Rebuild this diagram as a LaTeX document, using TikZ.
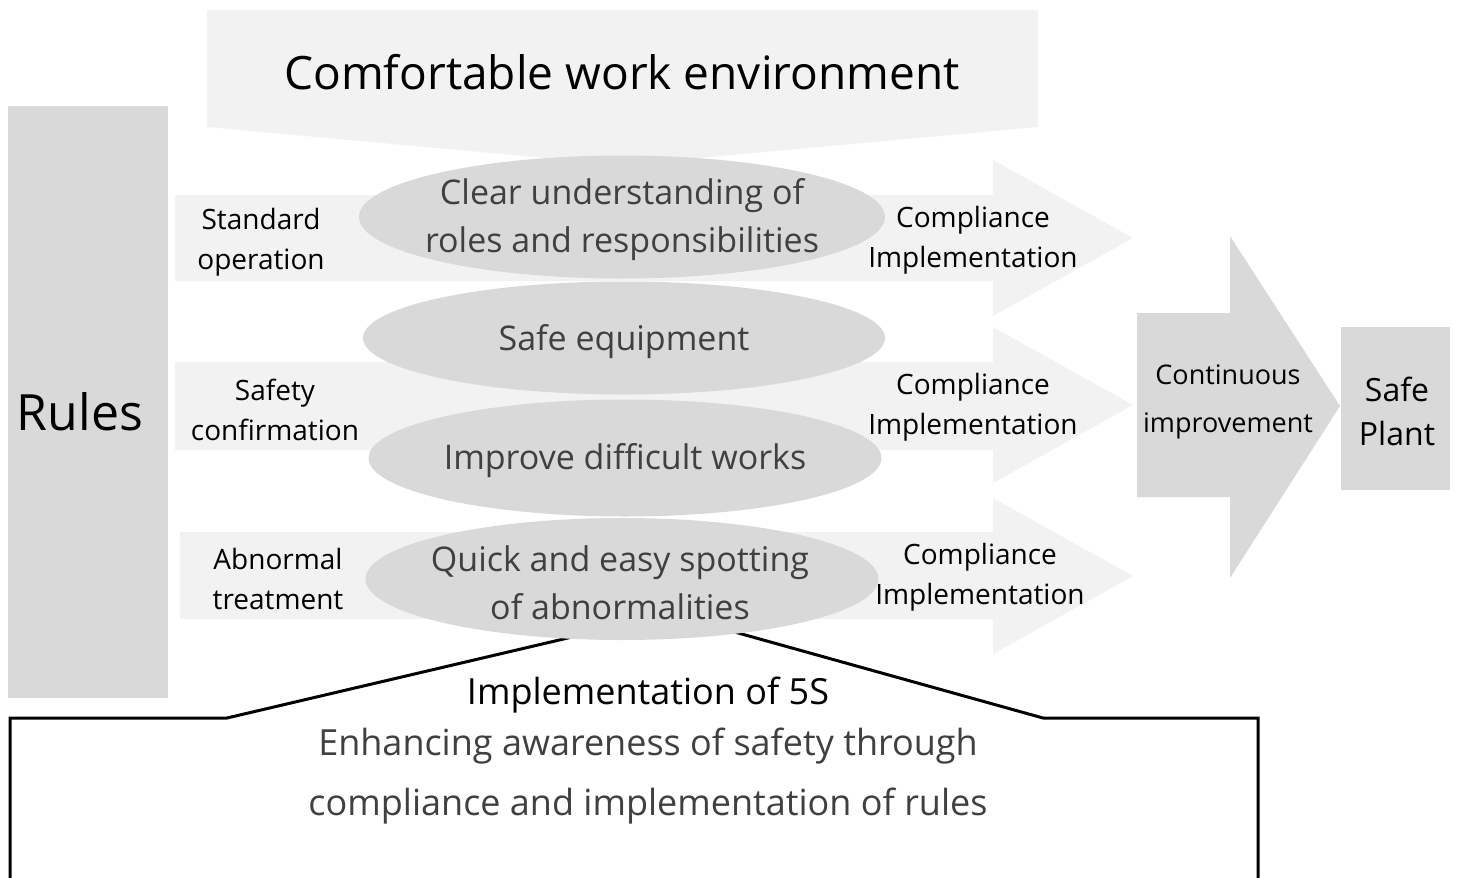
\documentclass[tikz,border=0pt]{standalone}
\usepackage{fontspec}
\setmainfont{Open Sans}
\usetikzlibrary{shapes.geometric}
\definecolor{paleGray}{HTML}{F2F2F2}
\definecolor{midGray}{HTML}{D9D9D9}
\definecolor{thinInk}{HTML}{404040}
\tikzset{
  pale/.style={fill=paleGray},
  mid/.style={fill=midGray},
  oval/.style={ellipse, fill=midGray, inner xsep=-12pt, inner ysep=-6pt, text=thinInk, align=center, font=\fontsize{17}{24}\selectfont},
  lbl/.style={align=center, inner sep=0pt, font=\fontsize{14}{20}\selectfont},
}

\begin{document}
\begin{tikzpicture}[x=0.5pt,y=-0.5pt]
\useasboundingbox (0,0) rectangle (1457,878);
\fill[pale] (207,10) -- (1038,10) -- (1038,127) -- (622,165) -- (207,127) -- cycle;
\fill[mid] (8,106) rectangle (168,698);
\fill[pale] (175,195) -- (993,195) -- (993,160) -- (1133,238) -- (993,316) -- (993,281) -- (175,281) -- cycle;
\fill[pale] (175,362) -- (993,362) -- (993,327) -- (1133,405) -- (993,483) -- (993,450) -- (175,450) -- cycle;
\fill[pale] (180,532) -- (993,532) -- (993,498) -- (1133,576) -- (993,654) -- (993,619) -- (180,619) -- cycle;
\draw[line width=1.5pt] (10,878) -- (10,718) -- (227,718) -- (670,614) -- (1043,718) -- (1258,718) -- (1258,878);
\fill[mid] (1137,313) -- (1230,313) -- (1230,236) -- (1340,406) -- (1230,578) -- (1230,497) -- (1137,497) -- cycle;
\fill[mid] (1341,327) rectangle (1450,490);
\node[oval, minimum width=263pt, minimum height=61.5pt] (roles) at (622,217) {};
\node[oval, minimum width=261pt, minimum height=56.5pt] (equip) at (624,338) {};
\node[oval, minimum width=256.5pt, minimum height=58.5pt] (works) at (625,458) {};
\node[oval, minimum width=256.5pt, minimum height=61pt] (spot) at (622,579) {};
\node[lbl, text=thinInk, font=\fontsize{17}{24}\selectfont] (rolestxt) at (622,220) {Clear understanding of\\roles and responsibilities};
\node[lbl, text=thinInk, font=\fontsize{17}{24}\selectfont] (equiptxt) at (624,342) {Safe equipment};
\node[lbl, text=thinInk, font=\fontsize{17}{24}\selectfont] (workstxt) at (625,461) {Improve difficult works};
\node[lbl, text=thinInk, font=\fontsize{17}{24}\selectfont] (spottxt) at (620,583) {Quick and easy spotting\\of abnormalities};
\node[font=\fontsize{23}{28}\selectfont] (env) at (622,72) {Comfortable work environment};
\node[font=\fontsize{25}{30}\selectfont] (rules) at (80,412) {Rules};
\node[lbl] (std) at (261,242) {Standard\\operation};
\node[lbl] (conf) at (275,410) {Safety\\confirmation};
\node[lbl] (abn) at (278,579) {Abnormal\\treatment};
\node[lbl] (comp1) at (973,240) {Compliance\\Implementation};
\node[lbl] (comp2) at (973,407) {Compliance\\Implementation};
\node[lbl] (comp3) at (980,577) {Compliance\\Implementation};
\node[lbl, font=\fontsize{13.5}{24}\selectfont] (cont) at (1228,402) {Continuous\\improvement};
\node[lbl, font=\fontsize{16}{22}\selectfont] (plant) at (1397,411) {Safe\\Plant};
\node[font=\fontsize{18}{22}\selectfont] (five) at (648,695) {Implementation of 5S};
\node[align=center, text=thinInk, font=\fontsize{18}{30}\selectfont] (aware) at (648,776) {Enhancing awareness of safety through\\compliance and implementation of rules};
\end{tikzpicture}
\end{document}
